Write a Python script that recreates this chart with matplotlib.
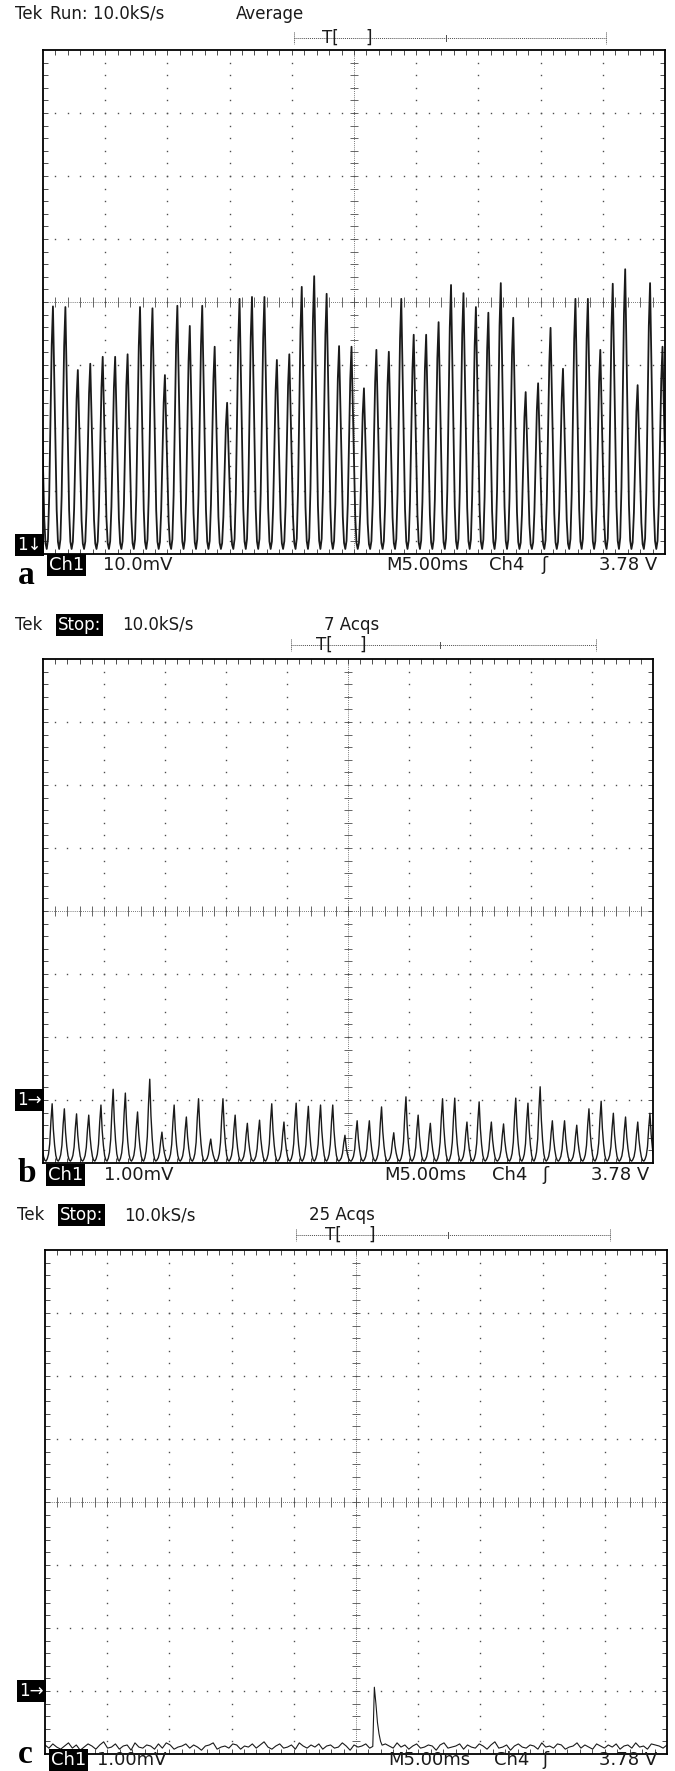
import numpy as np
import matplotlib.pyplot as plt
from matplotlib.lines import Line2D

W, H = 675, 1771

# ---- data (screen divisions, 10 x 8 graticule) ----
# panel a: peak height of each 1 ms cycle
peaks_a = [3.93, 3.92, 2.92, 3.02, 3.13, 3.13, 3.17, 3.92, 3.90, 2.84,
           3.94, 3.62, 3.94, 3.29, 2.40, 4.05, 4.08, 4.08, 3.08, 3.17,
           4.24, 4.41, 4.13, 3.30, 3.29, 2.63, 3.24, 3.21, 4.05, 3.48,
           3.48, 3.68, 4.27, 4.14, 3.92, 3.83, 4.30, 3.75, 2.57, 2.71,
           3.59, 2.94, 4.05, 4.05, 3.24, 4.29, 4.52, 2.68, 4.30, 3.29]
lead_a = 3.1          # cycle just before the screen
trough_a = 0.08
first_peak_a = 0.16

# panel b: peak heights, 1.00 mV/div
peaks_b = [0.94, 0.86, 0.78, 0.76, 0.92, 1.17, 1.11, 0.81, 1.33, 0.49,
           0.92, 0.73, 1.02, 0.38, 1.02, 0.76, 0.63, 0.68, 0.94, 0.65,
           0.95, 0.90, 0.92, 0.92, 0.44, 0.67, 0.67, 0.89, 0.48, 1.05,
           0.76, 0.63, 1.02, 1.03, 0.65, 0.97, 0.65, 0.62, 1.03, 0.95,
           1.21, 0.67, 0.67, 0.60, 0.86, 0.98, 0.79, 0.73, 0.65, 0.79]
lead_b = 0.7
trough_b = 0.03
first_peak_b = 0.15

# one cycle, sampled at 10 kS/s (offset from peak in div, fraction of peak)
cycle_off = [-0.10, -0.08, -0.06, -0.04, -0.02, 0.0, 0.02, 0.04, 0.06, 0.08]
cycle_frac_a = [0.0, 0.04, 0.22, 0.52, 0.84, 1.0, 0.72, 0.42, 0.16, 0.03]
cycle_frac_b = [0.0, 0.04, 0.12, 0.30, 0.70, 1.0, 0.55, 0.28, 0.10, 0.02]

# panel c: noise floor (in 1/60 div) and single spike
base_c = 0.11
noise_c = [2, -1, 3, 0, -2, 1, 4, -1, 2, -3, 0, 3, 1, -2, 2, 5, -1, 0, 3, -2,
           1, 2, -3, 4, 0, -1, 2, 1, -2, 3, -1, 4, 2, -2, 0, 1, 3, -1, 2, 0,
           -3, 1, 2, 4, -2, 0, 1, -1, 3, 2, -2, 1, 0, 3, -1, 2, 5, 0, -2, 1,
           3, -1, 0, 2, -2, 4, 1, -1, 2, 0, 3, -2, 1, 2, -1, 0, 4, 1, -3, 2,
           0, 1, 3, -1, 2, -2, 0, 3, 1, -1, 4, 0, 2, -2, 1, 3, -1, 0, 2, 1,
           -3, 2, 4, -1, 0, 1, 3, -2, 2, 0, -1, 3, 1, -2, 2, 5, -1, 0, 2, -3,
           1, 3, 0, -1, 2, 1, -2, 4, 0, 1, -1, 3, 2, -2, 0, 1, 4, -1, 2, 0,
           -2, 3, 1, -1, 2, 0, 3, -2, 1, 2, -1, 4, 0, 1, -2, 3, 2, 1, -1, 2]
spike_t0 = 5.27
spike_c = [0.12, 1.06, 0.80, 0.50, 0.32, 0.20, 0.14]

titles = [("Tek", None, "Run: 10.0kS/s", "Average"),
          ("Tek", "Stop:", "10.0kS/s", "7 Acqs"),
          ("Tek", "Stop:", "10.0kS/s", "25 Acqs")]
volts = ["10.0mV", "1.00mV", "1.00mV"]
letters = ["a", "b", "c"]


def fx(px):
    return px / W


def fy(py):
    return 1 - py / H


def cycles(peaks, lead, trough, first, frac):
    t, y = [], []
    allp = [lead] + list(peaks)
    for i, p in enumerate(allp):
        tp = first + (i - 1) * 0.2
        for o, f in zip(cycle_off, frac):
            t.append(tp + o)
            y.append(trough + f * (p - trough))
    return np.array(t), np.array(y)


def graticule(ax):
    ax.set_xlim(0, 10)
    ax.set_ylim(0, 8)
    ax.set_xticks([])
    ax.set_yticks([])
    for s in ax.spines.values():
        s.set_linewidth(1.3)
    xm = np.arange(0.2, 10, 0.2)
    ym = np.arange(0.2, 8, 0.2)
    g = '0.3'
    for x in range(1, 10):
        if x != 5:
            ax.plot(np.full(len(ym), x), ym, ls='none', marker='s', ms=1.0, color=g, mew=0)
    for y in range(1, 8):
        if y != 4:
            ax.plot(xm, np.full(len(xm), y), ls='none', marker='s', ms=1.0, color=g, mew=0)
    # centre cross
    ax.plot([5, 5], [0, 8], ls=(0, (1, 1.5)), lw=0.6, color=g)
    ax.plot([0, 10], [4, 4], ls=(0, (1, 1.5)), lw=0.6, color=g)
    ax.hlines(ym, 4.93, 5.07, lw=0.6, color=g)
    ax.vlines(xm, 3.92, 4.08, lw=0.6, color=g)
    # edge ticks
    ax.vlines(xm, 7.92, 8, lw=0.7, color=g)
    ax.vlines(xm, 0, 0.08, lw=0.7, color=g)
    ax.hlines(ym, 0, 0.08, lw=0.7, color=g)
    ax.hlines(ym, 9.92, 10, lw=0.7, color=g)


def rev(x, y, s, size=12):
    fig.text(fx(x), fy(y), s, color='white', fontsize=size, va='center', ha='left',
             bbox=dict(boxstyle='square,pad=0.12', fc='black', ec='none'))


def txt(x, y, s, size=12, ha='left'):
    fig.text(fx(x), fy(y), s, fontsize=size, va='center', ha=ha, color='0.1')


def trig_bar(x0, x1, xm, y, xt):
    c = '0.3'
    fig.add_artist(Line2D([fx(x0), fx(x1)], [fy(y), fy(y)], ls=(0, (1, 1)), lw=0.7, color=c))
    for xx in (x0, x1):
        fig.add_artist(Line2D([fx(xx), fx(xx)], [fy(y - 6), fy(y + 6)], ls=(0, (1, 1)), lw=0.7, color=c))
    fig.add_artist(Line2D([fx(xm), fx(xm)], [fy(y - 3), fy(y + 3)], lw=0.7, color=c))
    txt(xt, y, "T[", 12)
    txt(xt + 43, y, "]", 12)


plt.rcParams['font.family'] = ['DejaVu Sans']
fig = plt.figure(figsize=(W / 100, H / 100), dpi=100)

# frame boxes in pixels: left, top, right, bottom
frames = [(43, 50, 665, 554), (43, 659, 653, 1163), (45, 1250, 667, 1754)]
title_y = [14, 625, 1215]
title_x = [(15, None, 58, 236), (15, 58, 122, 324), (17, 60, 124, 309)]
bars = [(294, 606, 446, 38, 322), (291, 596, 440, 645, 316), (296, 610, 448, 1235, 325)]
marker_y = [545, 1100, 1691]
bottom_y = [565, 1175, 1760]
bottom_x = [(49, 103, 386, 489, 541, 657), (48, 104, 384, 492, 542, 649),
            (51, 97, 388, 494, 542, 657)]
letter_base = [584, 1182, 1763]

axes = []
for i, (l, t, r, b) in enumerate(frames):
    ax = fig.add_axes([fx(l), fy(b), (r - l) / W, (b - t) / H])
    graticule(ax)
    axes.append(ax)

ta, ya = cycles(peaks_a, lead_a, trough_a, first_peak_a, cycle_frac_a)
axes[0].plot(ta, ya, color='0.1', lw=1.3)
tb, yb = cycles(peaks_b, lead_b, trough_b, first_peak_b, cycle_frac_b)
axes[1].plot(tb, yb, color='0.1', lw=1.0)

tn = np.linspace(0, 10, len(noise_c))
yn = base_c + np.array(noise_c) / 60
ts = spike_t0 + np.arange(len(spike_c)) * 0.025
keep = (tn < ts[0]) | (tn > ts[-1])
tc = np.concatenate([tn[keep], ts])
yc = np.concatenate([yn[keep], spike_c])
order = np.argsort(tc)
axes[2].plot(tc[order], yc[order], color='0.1', lw=0.8)

for i in range(3):
    a, s, rest, extra = titles[i]
    x0, xs, xr, xe = title_x[i]
    txt(x0, title_y[i], a)
    if s:
        rev(xs, title_y[i], s)
        txt(xr, title_y[i], rest)
    else:
        txt(x0 + 35, title_y[i], rest)
    txt(xe, title_y[i], extra)
    trig_bar(*bars[i])

    mk = "1\u2193" if i == 0 else "1\u2192"
    rev(frames[i][0] - 26, marker_y[i], mk, 12)

    cx, vx, mx, c4x, ex, rx = bottom_x[i]
    rev(cx, bottom_y[i], "Ch1", 13)
    txt(vx, bottom_y[i], volts[i], 13)
    txt(mx, bottom_y[i], "M5.00ms", 13)
    txt(c4x, bottom_y[i], "Ch4", 13)
    txt(ex, bottom_y[i], "\u0283", 13)
    txt(rx, bottom_y[i], "3.78 V", 13, ha='right')
    fig.text(fx(18), fy(letter_base[i]), letters[i], fontsize=24, fontweight='bold',
             family='Liberation Serif', va='baseline', ha='left')

fig.savefig("out.png", dpi=100)
